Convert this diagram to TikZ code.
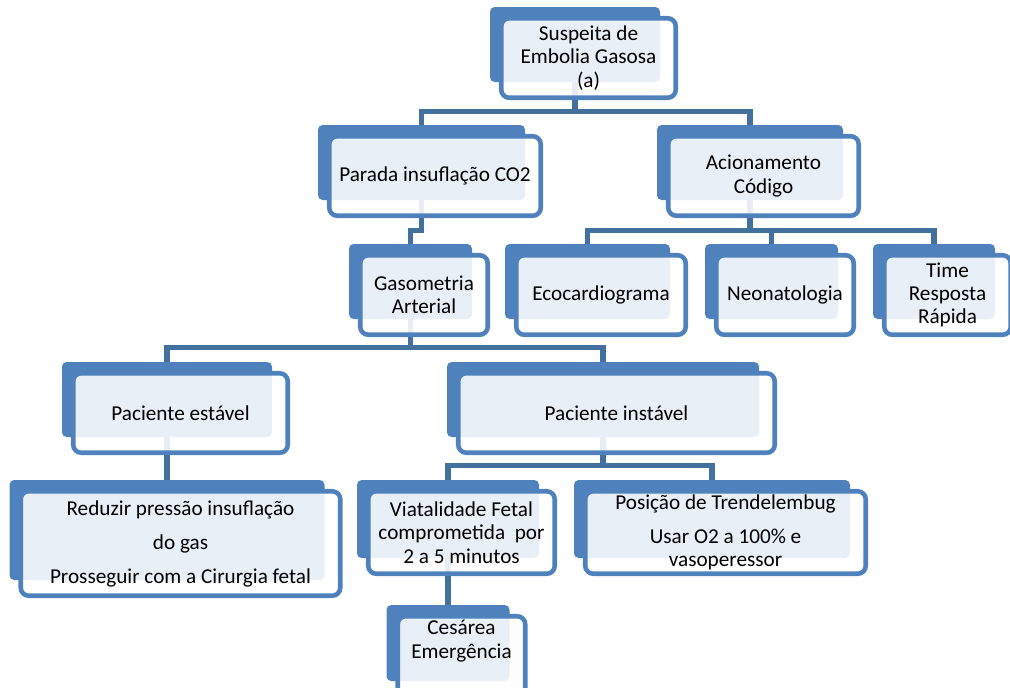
\documentclass[tikz,border=0pt]{standalone}
\usepackage{fontspec}
\setmainfont{Carlito}
\usetikzlibrary{calc}

\definecolor{boxblue}{HTML}{4F81BD}
\definecolor{linkblue}{HTML}{41719C}

\tikzset{
  boxback/.style 2 args={rectangle, rounded corners=3.5pt, fill=boxblue,
    inner sep=0pt, minimum width=#1*0.75pt, minimum height=#2*0.75pt},
  boxfront/.style 2 args={rectangle, rounded corners=6pt, draw=boxblue,
    line width=3.4pt, fill=white, fill opacity=0.88, text opacity=1,
    align=center, inner sep=2pt,
    font=\fontsize{15.9pt}{17.5pt}\selectfont,
    minimum width=(#1+4.5)*0.75pt, minimum height=(#2+4.5)*0.75pt},
  boxtext/.style={align=center, font=\fontsize{15.9pt}{17.5pt}\selectfont},
  conn/.style={draw=linkblue, line width=4pt},
}

\begin{document}
\begin{tikzpicture}[x=0.75pt, y=-0.75pt]
    \useasboundingbox (0,0) rectangle (1010,687);
    \clip (0,0) rectangle (1010,687);

    % dark back plates
    \node[boxback={170}{75}] (suspB) at (575,44.5) {};
    \node[boxback={207}{75}] (paradaB) at (421.5,162.5) {};
    \node[boxback={186}{75}] (acionB) at (750,162.5) {};
    \node[boxback={123}{75}] (gasoB) at (410.5,281.5) {};
    \node[boxback={165}{75}] (ecoB) at (587.5,281.5) {};
    \node[boxback={133}{75}] (neoB) at (771.5,281.5) {};
    \node[boxback={122}{75}] (timeB) at (934,281.5) {};
    \node[boxback={210}{75}] (estavelB) at (167,399.5) {};
    \node[boxback={312}{75}] (instavelB) at (603,399.5) {};
    \node[boxback={315}{100}] (reduzirB) at (167,530) {};
    \node[boxback={182}{78}] (viatB) at (448,519) {};
    \node[boxback={276}{78}] (posicaoB) at (712,519) {};
    \node[boxback={123}{76}] (cesareaB) at (448,643) {};

    % connectors
    \draw[conn] (suspB.south) -- ++(0,29) -| (paradaB.north);
    \draw[conn] (suspB.south) -- ++(0,29) -| (acionB.north);
    \draw[conn] (paradaB.south) -- ++(0,30) -| (gasoB.north);
    \draw[conn] (acionB.south) -- ++(0,30) -| (ecoB.north);
    \draw[conn] (acionB.south) -- ++(0,30) -| (neoB.north);
    \draw[conn] (acionB.south) -- ++(0,30) -| (timeB.north);
    \draw[conn] (gasoB.south) -- ++(0,28) -| (estavelB.north);
    \draw[conn] (gasoB.south) -- ++(0,28) -| (instavelB.north);
    \draw[conn] (estavelB.south) -- (reduzirB.north);
    \draw[conn] (instavelB.south) -- ++(0,28) -| (viatB.north);
    \draw[conn] (instavelB.south) -- ++(0,28) -| (posicaoB.north);
    \draw[conn] (viatB.south) -- (cesareaB.north);

    % light front boxes
    \node[boxfront={170}{75}] (susp) at ($(suspB)+(13.5,13.5)$) {Suspeita de\\Embolia Gasosa\\(a)};
    \node[boxfront={207}{75}] (parada) at ($(paradaB)+(13.5,13.5)$) {Parada insuflação CO2};
    \node[boxfront={186}{75}] (acion) at ($(acionB)+(13.5,13.5)$) {Acionamento\\Código};
    \node[boxfront={123}{75}] (gaso) at ($(gasoB)+(13.5,13.5)$) {Gasometria\\Arterial};
    \node[boxfront={165}{75}] (eco) at ($(ecoB)+(13.5,13.5)$) {Ecocardiograma};
    \node[boxfront={133}{75}] (neo) at ($(neoB)+(13.5,13.5)$) {Neonatologia};
    \node[boxfront={122}{75}] (time) at ($(timeB)+(13.5,13.5)$) {Time\\Resposta\\Rápida};
    \node[boxfront={210}{75}] (estavel) at ($(estavelB)+(13.5,13.5)$) {Paciente estável};
    \node[boxfront={312}{75}] (instavel) at ($(instavelB)+(13.5,13.5)$) {Paciente instável};
    \node[boxfront={315}{100}] (reduzir) at ($(reduzirB)+(13.5,13.5)$) {Reduzir pressão insuflação\\[8pt]do gas\\[8pt]Prosseguir com a Cirurgia fetal};
    \node[boxfront={182}{78}] (viat) at ($(viatB)+(13.5,13.5)$) {Viatalidade Fetal\\comprometida\ \ por\\2 a 5 minutos};
    \node[boxfront={276}{78}] (posicao) at ($(posicaoB)+(13.5,13.5)$) {Posição de Trendelembug\\[8pt]Usar O2 a 100\% e\\vasoperessor};
    \node[boxfront={123}{76}] (cesarea) at ($(cesareaB)+(13.5,13.5)$) {};
    \node[boxtext] (cesareaT) at ($(cesareaB)+(13.5,-2)$) {Cesárea\\Emergência};
\end{tikzpicture}
\end{document}
